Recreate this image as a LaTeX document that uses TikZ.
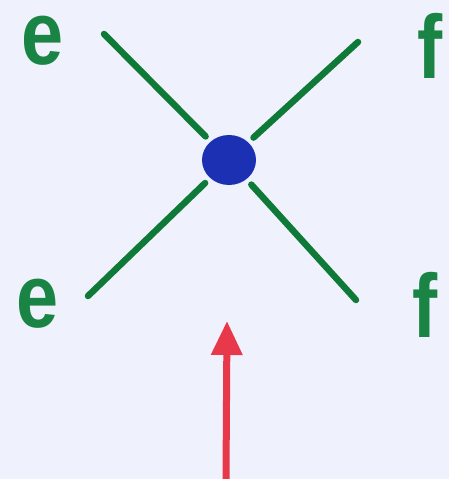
\documentclass[tikz,border=0pt]{standalone}
\usepackage{fontspec}
\setmainfont{Liberation Sans}
\usetikzlibrary{arrows.meta}
\definecolor{bg}{HTML}{EFF1FC}
\definecolor{leg}{HTML}{0F7A38}
\definecolor{lab}{HTML}{1A8445}
\definecolor{blob}{HTML}{1B30B2}
\definecolor{arr}{HTML}{E8394B}
\newcommand{\lbltext}[1]{\scalebox{0.84}[1]{#1}}
\tikzset{
  leglab/.style={text=lab, font=\bfseries\fontsize{90}{90}\selectfont, inner sep=0pt, anchor=center},
  legline/.style={draw=leg, line width=6.5pt, line cap=round},
  photon/.style={draw=arr, line width=7pt, -{Triangle[width=30pt,length=34pt]}}
}
\begin{document}
\begin{tikzpicture}[x=1pt,y=-1pt]
\fill[bg] (0,0) rectangle (449,479);
\useasboundingbox (0,0) rectangle (449,479);
\fill[blob] (229,160) ellipse [x radius=27pt, y radius=25pt];
\node[circle, minimum size=52pt, inner sep=0pt] (v) at (229,160) {};
\coordinate (ul) at (104,34);
\coordinate (ur) at (358,42);
\coordinate (ll) at (88,296);
\coordinate (lr) at (356,300);
\draw[legline, shorten <=7pt] (v) -- (ul);
\draw[legline, shorten <=7pt] (v) -- (ur);
\draw[legline, shorten <=7pt] (v) -- (ll);
\draw[legline, shorten <=7pt] (v) -- (lr);
\node[leglab] (e1) at (43,41) {\lbltext{e}};
\node[leglab] (f1) at (430,46) {\lbltext{f}};
\node[leglab] (e2) at (38,304) {\lbltext{e}};
\node[leglab] (f2) at (425,305) {\lbltext{f}};
\coordinate (a0) at (226,479);
\coordinate (a1) at (227,321);
\draw[photon] (a0) -- (a1);
\end{tikzpicture}
\end{document}
